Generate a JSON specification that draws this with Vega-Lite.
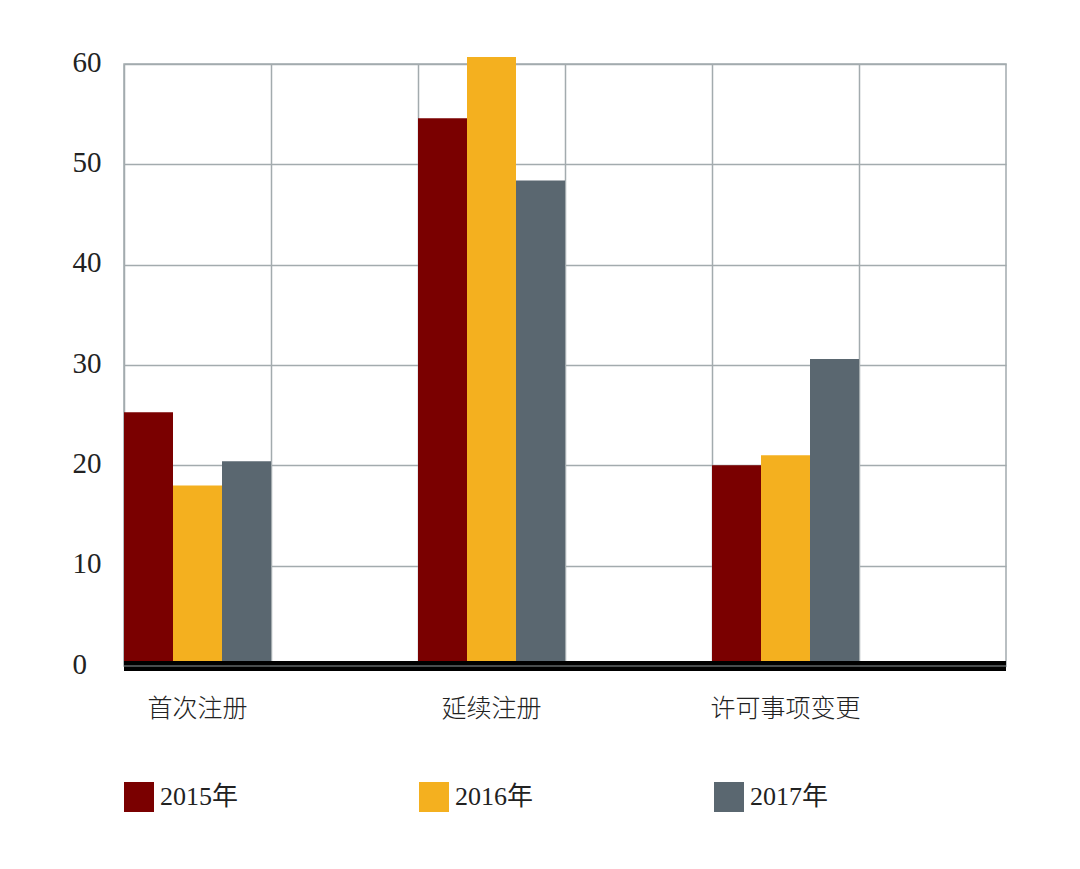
{
  "$schema": "https://vega.github.io/schema/vega-lite/v6.json",
  "width": 882,
  "height": 602,
  "autosize": {"type": "none"},
  "padding": {"left": 124, "top": 64, "right": 74, "bottom": 203},
  "background": "white",
  "config": {
    "view": {"stroke": "#a3abae", "strokeWidth": 1.5},
    "font": "Liberation Serif"
  },
  "data": {
    "values": [
      {"category": "首次注册", "year": "2015年", "value": 25.3},
      {"category": "首次注册", "year": "2016年", "value": 18.0},
      {"category": "首次注册", "year": "2017年", "value": 20.4},
      {"category": "延续注册", "year": "2015年", "value": 54.6},
      {"category": "延续注册", "year": "2016年", "value": 60.7},
      {"category": "延续注册", "year": "2017年", "value": 48.4},
      {"category": "许可事项变更", "year": "2015年", "value": 20.0},
      {"category": "许可事项变更", "year": "2016年", "value": 21.0},
      {"category": "许可事项变更", "year": "2017年", "value": 30.6}
    ]
  },
  "layer": [
    {
      "mark": {"type": "bar", "clip": false},
      "encoding": {
        "x": {
          "field": "category",
          "type": "nominal",
          "sort": null,
          "scale": {
            "domain": ["首次注册", "_1", "延续注册", "_2", "许可事项变更", "_3"],
            "paddingInner": 0,
            "paddingOuter": 0
          },
          "axis": {
            "title": null,
            "bandPosition": 0,
            "grid": true,
            "gridColor": "#a3abae",
            "gridWidth": 1.5,
            "ticks": false,
            "domain": false,
            "labelAngle": 0,
            "labelPadding": 30,
            "labelFontSize": 25,
            "labelFont": "Noto Sans CJK SC",
            "labelFontWeight": 300,
            "labelColor": "#222222",
            "labelExpr": "indexof(datum.label, '_') == 0 ? '' : datum.label"
          }
        },
        "xOffset": {
          "field": "year",
          "type": "nominal",
          "scale": {"paddingInner": 0, "paddingOuter": 0}
        },
        "y": {
          "field": "value",
          "type": "quantitative",
          "title": null,
          "scale": {"domain": [0, 60], "nice": false},
          "axis": {
            "title": null,
            "values": [0, 10, 20, 30, 40, 50, 60],
            "ticks": false,
            "domain": false,
            "grid": true,
            "gridColor": "#a3abae",
            "gridWidth": 1.5,
            "labelAlign": "left",
            "labelPadding": 52,
            "labelOffset": -2,
            "labelFontSize": 29,
            "labelFont": "Liberation Serif",
            "labelColor": "#222222"
          }
        },
        "color": {
          "field": "year",
          "type": "nominal",
          "scale": {
            "domain": ["2015年", "2016年", "2017年"],
            "range": ["#7a0000", "#f4b01f", "#5a6770"]
          },
          "legend": {
            "title": null,
            "orient": "none",
            "legendX": 0,
            "legendY": 718,
            "direction": "horizontal",
            "symbolType": "square",
            "symbolSize": 900,
            "symbolStrokeWidth": 0,
            "symbolOpacity": 1,
            "labelFontSize": 26,
            "labelFont": "Liberation Serif, Noto Sans CJK SC",
            "labelColor": "#222222",
            "labelOffset": 6,
            "columnPadding": 180
          }
        }
      }
    },
    {
      "data": {"values": [{"v": 0}]},
      "mark": {"type": "rule", "color": "#000000", "strokeWidth": 10},
      "encoding": {"y": {"field": "v", "type": "quantitative", "title": null}}
    },
    {
      "data": {"values": [{"v": 0}]},
      "mark": {"type": "rule", "color": "#8f979a", "strokeWidth": 1.2},
      "encoding": {"y": {"field": "v", "type": "quantitative", "title": null}}
    }
  ]
}
